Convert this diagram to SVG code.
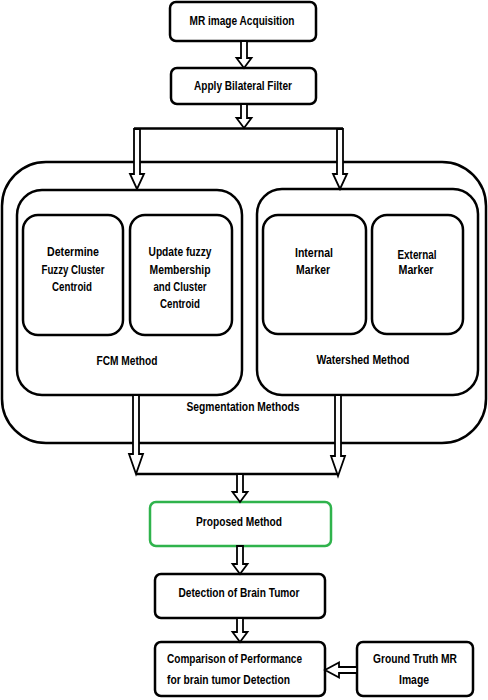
<svg xmlns="http://www.w3.org/2000/svg" width="488" height="700" viewBox="0 0 488 700">
<style>
.box{fill:#fff;stroke:#000;stroke-width:2.5}
.grn{fill:#fff;stroke:#2fb34c;stroke-width:2.5}
.arr{fill:#fff;stroke:#000;stroke-width:1.8;stroke-linejoin:miter}
.ln{fill:none;stroke:#000;stroke-width:2.5}
text{font-family:"Liberation Sans",Arial,sans-serif;font-weight:bold;font-size:12px;fill:#000;text-anchor:middle}
.l{text-anchor:start}
</style>
<rect width="488" height="700" fill="#fff"/>
<g id="segmentation">
<rect class="box" x="2" y="162" width="484" height="281" rx="44"/>
<text x="243" y="411" textLength="113" lengthAdjust="spacingAndGlyphs">Segmentation Methods</text>
</g>
<g id="fcm">
<rect class="box" x="17" y="190" width="225" height="205" rx="25"/>
<text x="127" y="365" textLength="61" lengthAdjust="spacingAndGlyphs">FCM Method</text>
</g>
<g id="determine">
<rect class="box" x="23" y="215" width="100" height="120" rx="15"/>
<text x="73" y="256" textLength="52" lengthAdjust="spacingAndGlyphs">Determine</text>
<text x="73" y="274" textLength="63" lengthAdjust="spacingAndGlyphs">Fuzzy Cluster</text>
<text x="72" y="291" textLength="40" lengthAdjust="spacingAndGlyphs">Centroid</text>
</g>
<g id="update">
<rect class="box" x="130" y="215" width="102" height="120" rx="15"/>
<text x="180" y="256" textLength="63" lengthAdjust="spacingAndGlyphs">Update fuzzy</text>
<text x="180" y="274" textLength="61" lengthAdjust="spacingAndGlyphs">Membership</text>
<text x="180" y="291" textLength="53" lengthAdjust="spacingAndGlyphs">and Cluster</text>
<text x="180" y="308" textLength="40" lengthAdjust="spacingAndGlyphs">Centroid</text>
</g>
<g id="watershed">
<rect class="box" x="257" y="189" width="221" height="206" rx="25"/>
<text x="363" y="364" textLength="93" lengthAdjust="spacingAndGlyphs">Watershed Method</text>
</g>
<g id="internal">
<rect class="box" x="263" y="215" width="103" height="119" rx="15"/>
<text x="314" y="257" textLength="38" lengthAdjust="spacingAndGlyphs">Internal</text>
<text x="313" y="274" textLength="34" lengthAdjust="spacingAndGlyphs">Marker</text>
</g>
<g id="external">
<rect class="box" x="372" y="215" width="91" height="119" rx="15"/>
<text x="417" y="259" textLength="39" lengthAdjust="spacingAndGlyphs">External</text>
<text x="416" y="274" textLength="35" lengthAdjust="spacingAndGlyphs">Marker</text>
</g>
<g id="acquisition">
<rect class="box" x="170" y="2" width="146" height="39" rx="6"/>
<text x="242" y="25" textLength="105" lengthAdjust="spacingAndGlyphs">MR image Acquisition</text>
</g>
<g id="bilateral">
<rect class="box" x="171" y="68" width="145" height="36" rx="6"/>
<text x="243" y="90" textLength="98" lengthAdjust="spacingAndGlyphs">Apply Bilateral Filter</text>
</g>
<g id="proposed">
<rect class="grn" x="150" y="502" width="181" height="44" rx="6"/>
<text x="239" y="526" textLength="86" lengthAdjust="spacingAndGlyphs">Proposed Method</text>
</g>
<g id="detection">
<rect class="box" x="155" y="574" width="170" height="44" rx="6"/>
<text x="239" y="597" textLength="121" lengthAdjust="spacingAndGlyphs">Detection of Brain Tumor</text>
</g>
<g id="comparison">
<rect class="box" x="155" y="642" width="170" height="54" rx="6"/>
<text class="l" x="167" y="663" textLength="135" lengthAdjust="spacingAndGlyphs">Comparison of Performance</text>
<text class="l" x="167" y="684" textLength="123" lengthAdjust="spacingAndGlyphs">for brain tumor Detection</text>
</g>
<g id="groundtruth">
<rect class="box" x="357" y="642" width="116" height="54" rx="6"/>
<text x="415" y="663" textLength="84" lengthAdjust="spacingAndGlyphs">Ground Truth MR</text>
<text x="414" y="684" textLength="30" lengthAdjust="spacingAndGlyphs">Image</text>
</g>
<g id="connectors">
<path class="ln" d="M134 128.5H343 M136 474H338"/>
<polygon class="arr" points="241,41 247,41 247,58 251.5,58 244,68 236.5,58 241,58"/>
<polygon class="arr" points="241,104 247,104 247,118 251.5,118 244,128 236.5,118 241,118"/>
<polygon class="arr" points="134,129 140,129 140,174 144,174 137,189 130,174 134,174"/>
<polygon class="arr" points="337,129 343,129 343,174 347,174 340,189 333,174 337,174"/>
<polygon class="arr" points="133,395 139,395 139,454 143,454 136,474 129,454 133,454"/>
<polygon class="arr" points="335,395 341,395 341,456 345,456 338,476 331,456 335,456"/>
<polygon class="arr" points="237,474 243,474 243,492 247.5,492 240,502 232.5,492 237,492"/>
<polygon class="arr" points="237,546 243,546 243,564 247.5,564 240,574 232.5,564 237,564"/>
<polygon class="arr" points="237,618 243,618 243,632 247.5,632 240,642 232.5,632 237,632"/>
<polygon class="arr" points="357,667 339,667 339,662.5 325,670 339,677.5 339,673 357,673"/>
</g>
</svg>
